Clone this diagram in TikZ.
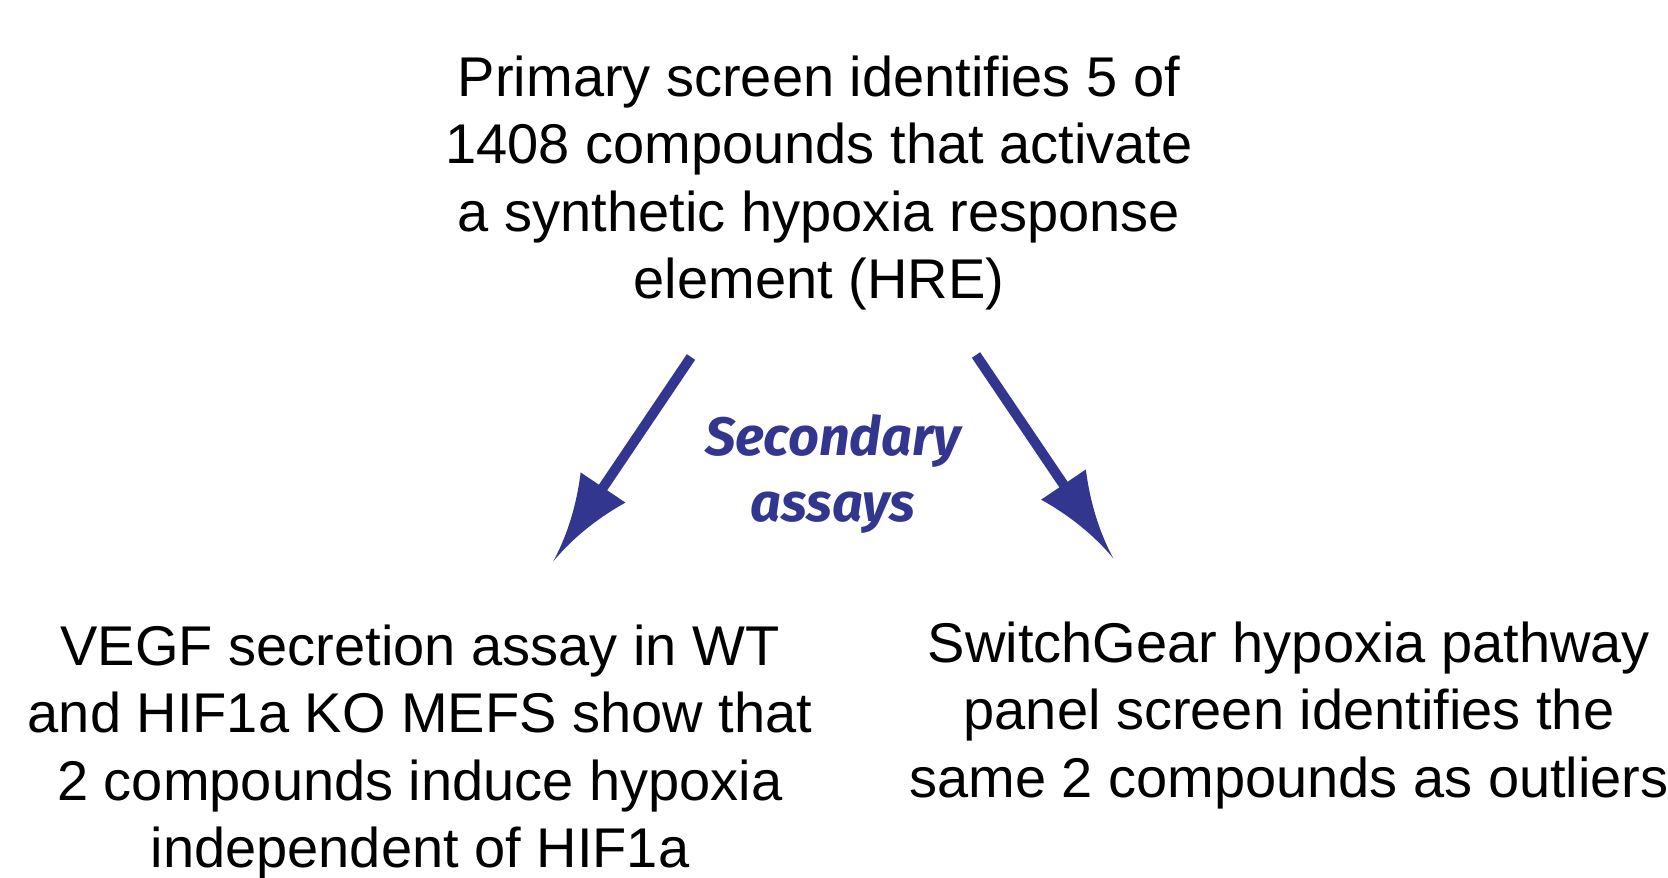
\documentclass[tikz,border=0pt]{standalone}
\usepackage{fontspec}
\setmainfont{Liberation Sans}
\newfontfamily\labelfont{Fira Sans}
\usetikzlibrary{arrows.meta}
\definecolor{arrowblue}{RGB}{51,54,143}
\pgfdeclarearrow{
  name = CurvyHead,
  setup code = {
    \pgfarrowssettipend{0pt}
    \pgfarrowssetlineend{-60pt}
    \pgfarrowssetvisualbackend{-89pt}
    \pgfarrowssetbackend{-89pt}
    \pgfarrowshullpoint{0pt}{0pt}
    \pgfarrowshullpoint{-89pt}{27pt}
    \pgfarrowshullpoint{-89pt}{-27pt}
  },
  drawing code = {
    \pgfpathmoveto{\pgfpoint{0pt}{0pt}}
    \pgfpathcurveto{\pgfpoint{-29.7pt}{3pt}}{\pgfpoint{-59.3pt}{12pt}}{\pgfpoint{-89pt}{27pt}}
    \pgfpathlineto{\pgfpoint{-89pt}{-27pt}}
    \pgfpathcurveto{\pgfpoint{-59.3pt}{-12pt}}{\pgfpoint{-29.7pt}{-3pt}}{\pgfpoint{0pt}{0pt}}
    \pgfpathclose
    \pgfusepathqfill
  }
}
\tikzset{
  maintext/.style={align=center, inner sep=0pt, anchor=base,
    font=\fontsize{56}{67.5}\selectfont},
  label/.style={align=center, inner sep=0pt, anchor=base, text=arrowblue,
    font=\labelfont\bfseries\itshape\fontsize{54}{66}\selectfont},
  conn/.style={draw=arrowblue, fill=arrowblue, line width=10pt, line cap=butt, -{CurvyHead}}
}
\begin{document}
\begin{tikzpicture}[x=1pt, y=-1pt]
\useasboundingbox (0,0) rectangle (1668,878);
% base anchor = baseline of the last line
\node[maintext] (primary) at (819,298.5) {Primary screen identifies 5 of\\1408 compounds that activate\\a synthetic hypoxia response\\element (HRE)};
\node[label] (secondary) at (833,521) {Secondary\\assays};
\node[maintext] (vegf) at (420,867.5) {VEGF secretion assay in WT\\and HIF1a KO MEFS show that\\2 compounds induce hypoxia\\independent of HIF1a};
\node[maintext] (switch) at (1289,797) {SwitchGear hypoxia pathway\\panel screen identifies the\\same 2 compounds as outliers};
\coordinate (s1) at (691,357);
\coordinate (t1) at (553.3,561.3);
\coordinate (s2) at (976,355);
\coordinate (t2) at (1113.3,558.3);
\draw[conn] (s1) -- (t1);
\draw[conn] (s2) -- (t2);
\end{tikzpicture}
\end{document}
